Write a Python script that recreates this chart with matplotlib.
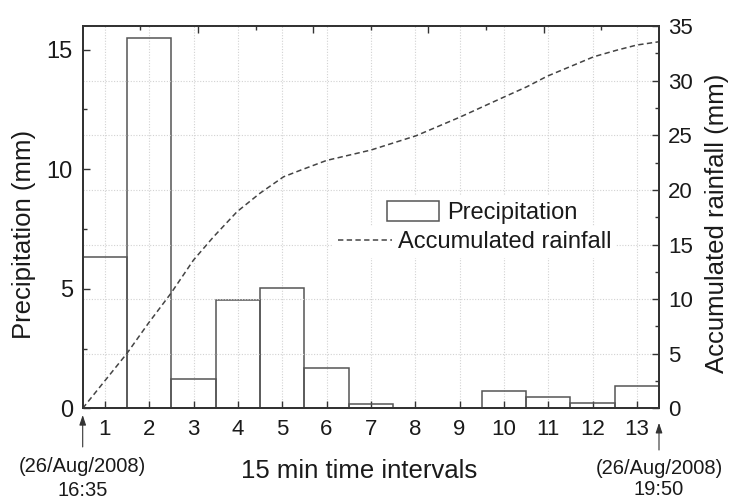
import matplotlib
matplotlib.use("Agg")
import matplotlib.pyplot as plt
import matplotlib.transforms as mtransforms
import numpy as np

plt.rcParams['font.family'] = ['Liberation Sans', 'DejaVu Sans']

# ---- data ----
intervals = [1, 2, 3, 4, 5, 6, 7, 8, 9, 10, 11, 12, 13]
precip = [6.32, 15.49, 1.21, 4.52, 5.03, 1.70, 0.18, 0.0, 0.0, 0.72, 0.46, 0.21, 0.95]
accum_x = [0.5, 1.5, 1.98, 2.49, 3.0, 3.45, 3.98, 4.5, 5.03, 5.41, 6.0, 7.0,
           8.02, 9.0, 10.0, 10.52, 10.97, 11.5, 12.03, 12.55, 13.0, 13.5]
accum_y = [0, 5.04, 7.78, 10.53, 13.58, 15.7, 18.0, 19.7, 21.2, 21.8, 22.7, 23.65,
           24.96, 26.65, 28.5, 29.45, 30.4, 31.3, 32.2, 32.8, 33.27, 33.57]
left_ticks = [0, 5, 10, 15]
right_ticks = [0, 5, 10, 15, 20, 25, 30, 35]
date_start = ["(26/Aug/2008)", "16:35"]
date_end = ["(26/Aug/2008)", "19:50"]

TXT = '#1a1a1a'
SP = '#333333'

fig = plt.figure(figsize=(7.29, 4.99), dpi=100)
ax = fig.add_axes([82.7/729, 1-408.3/499, (659-82.7)/729, (408.3-25.7)/499])
ax2 = ax.twinx()
ax3 = ax.twiny()

# grid
ax.set_axisbelow(True)
ax.grid(True, axis='x', color='#d2d2d2', linestyle=(0, (1, 1.5)), linewidth=0.8)
ax2.grid(True, axis='y', color='#d2d2d2', linestyle=(0, (1, 1.5)), linewidth=0.8)
ax2.set_axisbelow(True)

bars = ax.bar(intervals, precip, width=1.0, facecolor='none', edgecolor='#555555',
              linewidth=1.1, label='Precipitation', zorder=2)
line, = ax2.plot(accum_x, accum_y, color='#444444', linestyle=(0, (3.5, 2.2)),
                 linewidth=1.1, label='Accumulated rainfall', zorder=3)

ax.set_xlim(0.5, 13.5)
ax.set_ylim(0, 16.0)
ax2.set_ylim(0, 35.04)
ax3.set_xlim(0, 200)

ax.set_xticks(intervals)
ax.set_xticklabels([str(i) for i in intervals], fontsize=16, color=TXT)
ax.set_yticks(left_ticks)
ax.set_yticks([2.5, 7.5, 12.5], minor=True)
ax.set_yticklabels([str(v) for v in left_ticks], fontsize=17, color=TXT)
ax2.set_yticks(right_ticks)
ax2.set_yticks([2.5, 7.5, 12.5, 17.5, 22.5, 27.5, 32.5], minor=True)
ax2.set_yticklabels([str(v) for v in right_ticks], fontsize=16, color=TXT)
ax3.set_xticks([40, 80, 120, 160])
ax3.set_xticks([20, 60, 100, 140, 180], minor=True)
ax3.set_xticklabels([])

ax.tick_params(axis='x', which='major', direction='in', length=5, width=1.0,
               color=SP, pad=8, top=False)
ax.tick_params(axis='y', which='major', direction='in', length=5, width=1.0,
               color=SP, pad=7, right=False)
ax.tick_params(axis='y', which='minor', direction='in', length=3, width=1.0,
               color=SP, right=False)
ax2.tick_params(axis='y', which='major', direction='in', length=5, width=1.0,
                color=SP, pad=6.5)
ax2.tick_params(axis='y', which='minor', direction='in', length=3, width=1.0, color=SP)
ax3.tick_params(axis='x', which='major', direction='in', length=5, width=1.0, color=SP)
ax3.tick_params(axis='x', which='minor', direction='in', length=3, width=1.0, color=SP)

for a in (ax, ax2, ax3):
    for s in a.spines.values():
        s.set_color(SP)
        s.set_linewidth(1.2)

# labels
fig.text(24.5/729, 1-234/499, 'Precipitation (mm)', rotation=90, ha='center',
         va='center', fontsize=18.5, color=TXT)
fig.text(717/729, 1-223/499, 'Accumulated rainfall (mm)', rotation=90, ha='center',
         va='center', fontsize=18.5, color=TXT)
fig.text(359/729, 1-478/499, '15 min time intervals', ha='center', va='baseline',
         fontsize=18.5, color=TXT)

# date annotations with arrows
trans = mtransforms.blended_transform_factory(ax.transData, fig.transFigure)
for xpos, lines, tip, tail, base in [(0.5, date_start, -0.0175, -0.101, (472, 496)),
                                     (13.5, date_end, -0.038, -0.109, (474, 495))]:
    ax.annotate('', xy=(xpos, tip), xycoords=('data', 'axes fraction'),
                xytext=(xpos, tail), textcoords=('data', 'axes fraction'),
                arrowprops=dict(arrowstyle='-|>,head_length=0.6,head_width=0.2',
                                color='#333333', lw=0.8, shrinkA=0, shrinkB=0),
                annotation_clip=False)
    for txt, b in zip(lines, base):
        fig.text(xpos, 1-b/499, txt, transform=trans, ha='center', va='baseline',
                 fontsize=14.5, color=TXT)

# legends
fs = 17
bp = 0.2
pad_px = bp * fs * 100 / 72
leg1 = ax2.legend(handles=[bars], labels=['Precipitation'], loc='center left',
                  bbox_to_anchor=((387-83-pad_px)/576, (408.3-212.5)/382.6),
                  fontsize=fs, frameon=True, facecolor='white', edgecolor='none',
                  framealpha=1, fancybox=False, borderpad=bp, borderaxespad=0,
                  handlelength=2.2, handleheight=0.89, handletextpad=0.34)
for h in leg1.legend_handles:
    h.set_facecolor('white')
    h.set_edgecolor('#555555')
ax2.add_artist(leg1)
leg2 = ax2.legend(handles=[line], labels=['Accumulated rainfall'], loc='center left',
                  bbox_to_anchor=((338-83-pad_px)/576, (408.3-242)/382.6),
                  fontsize=fs, frameon=True, facecolor='white', edgecolor='none',
                  framealpha=1, fancybox=False, borderpad=bp, borderaxespad=0,
                  handlelength=2.29, handletextpad=0.25)
for t in leg1.get_texts() + leg2.get_texts():
    t.set_color(TXT)

fig.savefig('out.png', dpi=100)
